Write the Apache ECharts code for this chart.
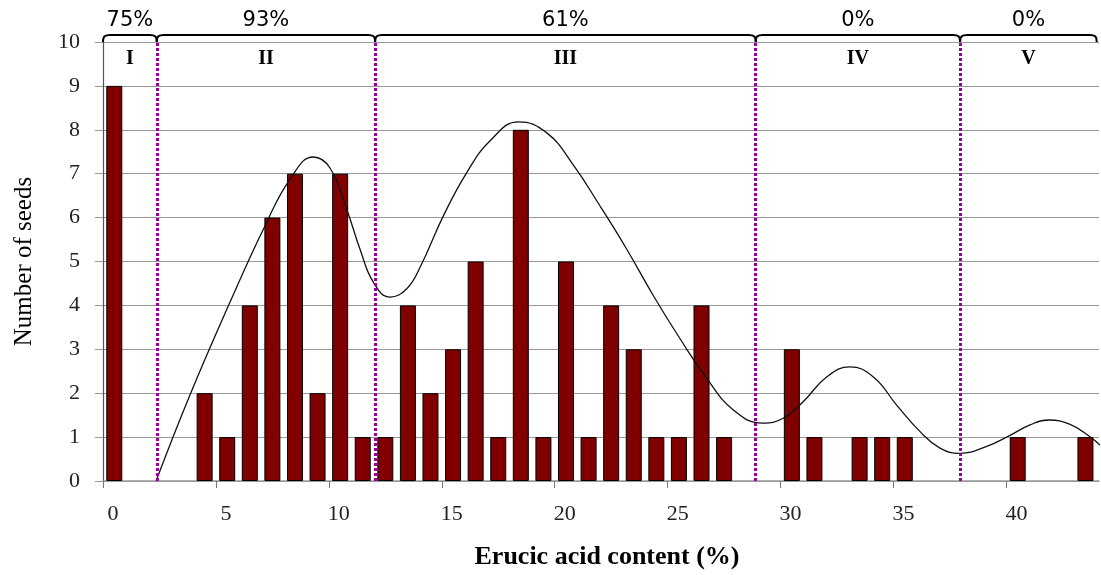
<!DOCTYPE html>
<html>
<head>
<meta charset="utf-8">
<script src="https://cdn.jsdelivr.net/npm/echarts@6/dist/echarts.min.js"></script>
<style>
  html, body { margin: 0; padding: 0; background: #fff; }
  #chart { width: 1101px; height: 575px; }
</style>
</head>
<body>
<div id="chart"></div>
<script>
const binCenters = [0.5, 4.5, 5.5, 6.5, 7.5, 8.5, 9.5, 10.5, 11.5, 12.5, 13.5, 14.5, 15.5, 16.5, 17.5, 18.5, 19.5,
  20.5, 21.5, 22.5, 23.5, 24.5, 25.5, 26.5, 27.5, 30.5, 31.5, 33.5, 34.5, 35.5, 40.5, 43.5];
const seedCounts = [9, 2, 1, 4, 6, 7, 2, 7, 1, 1, 4, 2, 3, 5, 1, 8, 1,
  5, 1, 4, 3, 1, 1, 4, 1, 3, 1, 1, 1, 1, 1, 1];

// fitted curve
const curveX = [2.35, 3.85, 5.62, 7.17, 8.3, 9.31, 10.05, 10.79, 11.38, 11.97, 12.71, 13.45, 14.04,
  15.07, 16.1, 17.14, 18.4, 19.65, 20.82, 22.0, 23.19, 24.37, 25.55, 26.73, 27.91, 29.2,
  30.12, 31.01, 32.04, 33.07, 34.11, 35.14, 36.17, 37.06, 37.95, 39.13, 40.16, 41.05, 41.86, 42.82, 43.7, 44.14];
const curveY = [0, 1.96, 4.07, 5.81, 6.89, 7.38, 7.13, 6.19, 5.28, 4.53, 4.19, 4.38, 4.87,
  6.04, 7.02, 7.75, 8.18, 7.93, 7.2, 6.27, 5.28, 4.22, 3.24, 2.34, 1.62, 1.32,
  1.43, 1.81, 2.37, 2.6, 2.37, 1.73, 1.13, 0.75, 0.63, 0.79, 1.04, 1.28, 1.39, 1.29, 1.01, 0.82];

const regionEdges = [0, 2.38, 12.05, 28.9, 37.95, 44.0];
const regionNames = ['I', 'II', 'III', 'IV', 'V'];
const regionShares = ['75%', '93%', '61%', '0%', '0%'];

const xTicks = [0, 5, 10, 15, 20, 25, 30, 35, 40];

const chart = echarts.init(document.getElementById('chart'));

const braceItem = (params, api) => {
  const left = api.coord([api.value(0), 10]);
  const right = api.coord([api.value(1), 10]);
  const x0 = left[0];
  const x1 = right[0];
  const y = left[1];
  const mid = (x0 + x1) / 2;
  const top = y - 7;
  return {
    type: 'group',
    children: [
      {
        type: 'path',
        shape: {
          pathData: `M${x0},${y} C${x0},${top + 1} ${x0 + 2},${top} ${x0 + 7},${top} L${x1 - 7},${top} C${x1 - 2},${top} ${x1},${top + 1} ${x1},${y}`
        },
        style: { fill: 'none', stroke: '#000', lineWidth: 2 }
      },
      {
        type: 'text',
        x: mid,
        y: y - 21,
        style: {
          text: regionShares[params.dataIndex],
          fontFamily: 'DejaVu Sans',
          fontSize: 21,
          fill: '#000',
          align: 'center',
          verticalAlign: 'middle'
        }
      },
      {
        type: 'text',
        x: mid,
        y: y + 17,
        style: {
          text: regionNames[params.dataIndex],
          fontFamily: 'Liberation Serif',
          fontWeight: 'bold',
          fontSize: 20,
          fill: '#000',
          align: 'center',
          verticalAlign: 'middle'
        }
      }
    ]
  };
};

chart.setOption({
  animation: false,
  backgroundColor: '#fff',
  grid: { left: 103, right: 2, top: 42, bottom: 92 },
  xAxis: {
    type: 'value',
    min: 0,
    max: 44.1,
    interval: 5,
    name: 'Erucic acid content (%)',
    nameLocation: 'middle',
    nameGap: 63,
    nameTextStyle: { fontFamily: 'Liberation Serif', fontWeight: 'bold', fontSize: 26, color: '#000', padding: [0, 0, 0, 12] },
    axisLine: { lineStyle: { color: '#999', width: 1.5 } },
    axisTick: { show: true, length: 7, customValues: xTicks, lineStyle: { color: '#777' } },
    axisLabel: {
      customValues: xTicks,
      margin: 22,
      padding: [0, 0, 0, 20],
      fontFamily: 'Liberation Serif',
      fontSize: 22,
      color: '#222'
    },
    splitLine: { show: false }
  },
  yAxis: {
    type: 'value',
    min: 0,
    max: 10,
    interval: 1,
    name: 'Number of seeds',
    nameLocation: 'middle',
    nameGap: 66,
    nameTextStyle: { fontFamily: 'Liberation Serif', fontSize: 25, color: '#000' },
    axisLine: { show: true, lineStyle: { color: '#555', width: 1.2 } },
    axisTick: { show: true, length: 8, lineStyle: { color: '#999' } },
    axisLabel: { margin: 23, fontFamily: 'Liberation Serif', fontSize: 22, color: '#222' },
    splitLine: { lineStyle: { color: '#999', width: 1.2 } }
  },
  series: [
    {
      type: 'bar',
      data: binCenters.map((x, i) => [x, seedCounts[i]]),
      barWidth: 16,
      itemStyle: { color: '#800000', borderColor: '#000', borderWidth: 1 },
      markLine: {
        silent: true,
        symbol: 'none',
        label: { show: false },
        lineStyle: { color: '#990099', type: [3, 2], width: 3 },
        data: regionEdges.slice(1, 5).map((x) => ({ xAxis: x }))
      }
    },
    {
      type: 'line',
      data: curveX.map((x, i) => [x, curveY[i]]),
      smooth: 0.45,
      symbol: 'none',
      lineStyle: { color: '#111', width: 1.3 },
      z: 3
    },
    {
      type: 'custom',
      clip: false,
      silent: true,
      renderItem: braceItem,
      data: regionNames.map((name, i) => [regionEdges[i], regionEdges[i + 1]]),
      z: 4
    }
  ]
});
</script>
</body>
</html>
